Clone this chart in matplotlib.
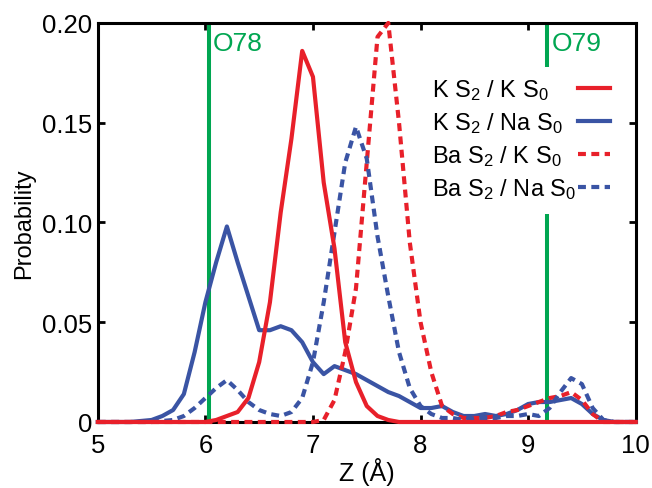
import numpy as np
import matplotlib
matplotlib.use('Agg')
import matplotlib.pyplot as plt
from matplotlib.patches import Rectangle

plt.rcParams['font.family'] = ['Liberation Sans', 'DejaVu Sans']
plt.rcParams['mathtext.fontset'] = 'custom'
plt.rcParams['mathtext.rm'] = 'Liberation Sans'
plt.rcParams['mathtext.default'] = 'regular'

# bin centres (Angstrom)
z = np.linspace(5.0, 10.0, 51)

k_k = [0, 0, 0, 0, 0, 0, 0, 0, 0, 0,
       0, 0.001, 0.003, 0.005, 0.012, 0.03, 0.06, 0.105, 0.142, 0.186,
       0.173, 0.12, 0.087, 0.04, 0.02, 0.008, 0.003, 0.001, 0, 0,
       0, 0, 0, 0, 0, 0, 0, 0, 0, 0,
       0, 0, 0, 0, 0, 0, 0, 0, 0, 0, 0]

k_na = [0, 0, 0, 0, 0.0005, 0.001, 0.003, 0.006, 0.014, 0.035,
        0.06, 0.08, 0.098, 0.08, 0.063, 0.046, 0.046, 0.048, 0.046, 0.04,
        0.03, 0.024, 0.028, 0.026, 0.024, 0.021, 0.018, 0.015, 0.013, 0.01,
        0.007, 0.007, 0.008, 0.005, 0.003, 0.003, 0.004, 0.003, 0.004, 0.006,
        0.009, 0.010, 0.010, 0.011, 0.012, 0.009, 0.004, 0.001, 0, 0, 0]

ba_k = [0, 0, 0, 0, 0, 0, 0, 0, 0, 0,
        0, 0, 0, 0, 0, 0, 0, 0, 0, 0,
        0, 0.001, 0.011, 0.035, 0.067, 0.13, 0.193, 0.2, 0.15, 0.09,
        0.05, 0.025, 0.008, 0.004, 0.002, 0.002, 0.002, 0.003, 0.005, 0.006,
        0.008, 0.01, 0.012, 0.013, 0.015, 0.011, 0.004, 0, 0, 0, 0]

ba_na = [0, 0, 0, 0, 0, 0, 0.0005, 0.001, 0.003, 0.007,
         0.012, 0.017, 0.021, 0.016, 0.01, 0.006, 0.004, 0.003, 0.005, 0.012,
         0.03, 0.06, 0.095, 0.13, 0.148, 0.132, 0.093, 0.063, 0.035, 0.017,
         0.008, 0.004, 0.002, 0.002, 0.001, 0.002, 0.002, 0.002, 0.003, 0.003,
         0.004, 0.003, 0.007, 0.015, 0.022, 0.019, 0.007, 0.001, 0, 0, 0]

labels = [r'K S$_2$ / K S$_0$', r'K S$_2$ / Na S$_0$',
          r'Ba S$_2$ / K S$_0$', r'Ba S$_2$ / Na S$_0$']

o78 = 6.03
o79 = 9.18
ytick_vals = [0, 0.05, 0.10, 0.15, 0.20]
ytick_labels = ['0', '0.05', '0.10', '0.15', '0.20']
xtick_vals = [5, 6, 7, 8, 9, 10]

red = '#e8202a'
blue = '#3a54a4'
green = '#00a651'

fig = plt.figure(figsize=(6.52, 4.89), dpi=100)
ax = fig.add_axes([0.150, 0.135, 0.825, 0.816])

ax.axvline(o78, color=green, lw=2.9, zorder=1)
ax.axvline(o79, color=green, lw=2.9, zorder=1)
ax.text(o78 + 0.04, 0.190, 'O78', color=green, fontsize=19, va='center', ha='left')
ax.text(o79 + 0.04, 0.190, 'O79', color=green, fontsize=19, va='center', ha='left')

lw = 3.0
dash = (1.9, 1.3)
series = [(k_k, red, None, 3.2), (k_na, blue, None, 3.0),
          (ba_k, red, dash, 3.0), (ba_na, blue, dash, 3.1)]
for (vals, col, ds, zo), lab in zip(series, labels):
    line, = ax.plot(z, vals, color=col, lw=lw, label=lab, zorder=zo, clip_on=False)
    if ds:
        line.set_dashes(ds)

ax.set_xlim(5, 10)
ax.set_ylim(0, 0.2)
ax.set_xticks(xtick_vals)
ax.set_yticks(ytick_vals)
ax.set_yticklabels(ytick_labels)
ax.tick_params(direction='in', length=5, width=2, labelsize=18.5,
               top=True, right=True)
ax.tick_params(axis='y', pad=4)
ax.tick_params(axis='x', pad=8)
for sp in ax.spines.values():
    sp.set_linewidth(2.2)

ax.set_xlabel('Z (Å)', fontsize=18, labelpad=0)
ax.set_ylabel('Probability', fontsize=17, labelpad=5)

# legend: white box, left-aligned labels, keys on the right
ax.add_patch(Rectangle((0.608, 0.521), 0.36, 0.369, transform=ax.transAxes,
                       facecolor='white', edgecolor='none', zorder=4))
key_y = [0.837, 0.754, 0.672, 0.589]
for (vals, col, ds, zo), lab, ky in zip(series, labels, key_y):
    ax.text(0.621, ky - 0.021, lab, transform=ax.transAxes, fontsize=17,
            ha='left', va='baseline', zorder=5)
    key, = ax.plot([0.892, 0.953], [ky, ky], transform=ax.transAxes,
                   color=col, lw=lw, zorder=5, clip_on=False)
    if ds:
        key.set_dashes(ds)

fig.savefig('out.png', dpi=100)
